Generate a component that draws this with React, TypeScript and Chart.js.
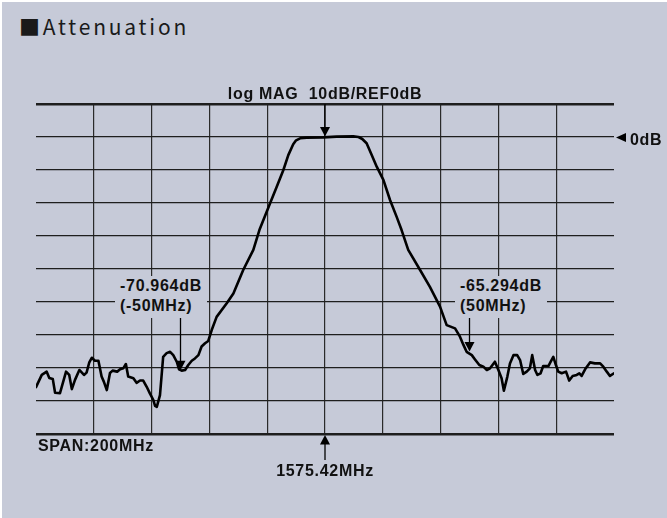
import React, { useEffect, useRef } from 'react';
import { Chart, registerables } from 'chart.js';

Chart.register(...registerables);

// Frequency offset from centre (MHz) and measured level (dB)
const freqMHz = [
  -100, -98.0, -96.3, -95.4, -94.2, -93.4, -91.7, -89.6, -88.5, -87.6, -86.5, -85.0, -83.4, -82.5,
  -81.6, -80.7, -79.6, -78.4, -77.3, -76.5, -75.5, -74.4, -73.5, -71.9, -70.9, -69.8, -68.9, -68.1,
  -66.3, -65.2, -64.0, -62.9, -61.7, -60.6, -59.4, -58.8, -58.2, -57.1, -56.0, -54.8, -53.6, -52.5,
  -51.3, -50.5, -49.6, -48.4, -47.3, -46.1, -45.0, -43.8, -42.7, -41.5, -40.4, -39.2, -37.5, -34.0,
  -31.7, -28.3, -24.8, -22.7, -19.0, -16.7, -14.4, -12.7, -11.0, -10.0, -8.6, -6.3, -0.6, 4.0,
  9.8, 11.6, 12.9, 14.4, 16.2, 17.9, 20.2, 22.5, 24.8, 26.5, 28.8, 32.9, 36.3, 39.8,
  42.1, 45.0, 46.7, 47.9, 49.0, 50.8, 51.9, 53.4, 54.8, 56.0, 57.1, 58.8, 60.0, 61.1,
  61.9, 63.1, 64.0, 65.2, 66.5, 67.5, 68.6, 69.8, 70.9, 71.7, 72.7, 73.5, 74.6, 75.5,
  77.3, 78.1, 79.0, 79.9, 80.7, 81.9, 83.4, 84.5, 85.7, 87.1, 88.0, 88.8, 90.0, 91.7,
  93.4, 95.2, 96.3, 97.5, 98.6, 100,
];

const levelDb = [
  -75.8, -72.1, -71.1, -73.0, -73.3, -77.5, -77.6, -71.1, -72.1, -76.4, -73.6, -70.6, -72.1, -71.4,
  -68.4, -66.9, -67.8, -67.8, -72.6, -74.2, -76.7, -71.5, -70.8, -71.1, -70.4, -70.1, -68.8, -72.6,
  -73.1, -74.5, -73.8, -73.8, -75.7, -77.7, -79.7, -81.5, -81.8, -78.2, -66.6, -65.5, -65.1, -66.1,
  -68.1, -70.4, -70.8, -70.6, -69.1, -67.8, -67.1, -66.1, -63.5, -62.5, -61.8, -58.5, -54.5, -50.4,
  -47.4, -40.3, -34.2, -28.2, -20.1, -15.1, -10.0, -5.5, -2.2, -1.0, -0.4, -0.2, -0.1, 0.1,
  0.2, 0.0, -0.6, -1.9, -5.5, -9.0, -13.0, -19.1, -24.2, -28.2, -34.2, -40.3, -45.4, -51.4,
  -57.0, -58.0, -60.5, -63.0, -65.1, -66.1, -67.4, -69.1, -69.6, -70.6, -70.1, -68.1, -70.6, -73.1,
  -76.9, -72.6, -68.6, -66.1, -66.1, -67.6, -71.8, -71.1, -70.1, -66.1, -70.6, -72.1, -71.6, -69.4,
  -69.4, -68.1, -66.6, -69.1, -71.1, -71.6, -71.1, -73.8, -72.4, -72.1, -71.6, -72.4, -70.4, -68.3,
  -68.6, -68.6, -69.6, -71.1, -72.4, -71.6,
];

// Markers
const markerFreqs = [-50, 50];
const markerDbs = [-70.964, -65.294];
const markerLevelLabels = ['-70.964dB', '-65.294dB'];
const markerOffsetLabels = ['(-50MHz)', '(50MHz)'];

// Axis settings / texts
const spanMHz = 200;
const divisionMHz = 20;
const refDb = 0;
const dbPerDiv = 10;
const topDb = 10;
const bottomDb = -90;
const titleText = 'Attenuation';
const headerText = 'log MAG  10dB/REF0dB';
const refText = '0dB';
const spanText = 'SPAN:200MHz';
const centerText = '1575.42MHz';

const BG = '#C6CAD8';
const LABEL_BOX_BOTTOM = 318;

function downArrow(ctx: CanvasRenderingContext2D, x: number, y1: number, tip: number) {
  ctx.beginPath();
  ctx.moveTo(x, y1);
  ctx.lineTo(x, tip - 8);
  ctx.stroke();
  ctx.beginPath();
  ctx.moveTo(x - 5, tip - 9.5);
  ctx.lineTo(x + 5, tip - 9.5);
  ctx.lineTo(x, tip);
  ctx.closePath();
  ctx.fill();
}

function upArrow(ctx: CanvasRenderingContext2D, x: number, tip: number, y2: number) {
  ctx.beginPath();
  ctx.moveTo(x, tip + 8);
  ctx.lineTo(x, y2);
  ctx.stroke();
  ctx.beginPath();
  ctx.moveTo(x - 5, tip + 9.5);
  ctx.lineTo(x + 5, tip + 9.5);
  ctx.lineTo(x, tip);
  ctx.closePath();
  ctx.fill();
}

const arrowPlugin = {
  id: 'analyzerArrows',
  afterDatasetsDraw(chart: any) {
    const { ctx, chartArea, scales } = chart;
    const xs = scales.x;
    const ys = scales.y;
    ctx.save();
    ctx.strokeStyle = '#000';
    ctx.fillStyle = '#000';
    ctx.lineWidth = 1.3;
    const cx = xs.getPixelForValue(0);
    const y0 = ys.getPixelForValue(refDb);
    // centre marker at top
    downArrow(ctx, cx, chartArea.top, y0 - 0.5);
    // centre frequency arrow below
    upArrow(ctx, cx, chartArea.bottom + 1, chartArea.bottom + 26);
    // reference level triangle
    const rx = chartArea.right + 2;
    ctx.beginPath();
    ctx.moveTo(rx, y0 + 0.5);
    ctx.lineTo(rx + 10, y0 - 4);
    ctx.lineTo(rx + 10, y0 + 5);
    ctx.closePath();
    ctx.fill();
    // band markers
    markerFreqs.forEach((f, i) => {
      const px = xs.getPixelForValue(f);
      const py = ys.getPixelForValue(markerDbs[i]);
      downArrow(ctx, px, LABEL_BOX_BOTTOM, py - 1);
    });
    ctx.restore();
  },
};

const boldText: React.CSSProperties = {
  position: 'absolute',
  fontFamily: '"Liberation Sans", Arial, sans-serif',
  fontWeight: 700,
  fontSize: 16,
  lineHeight: '20px',
  letterSpacing: '0.7px',
  color: '#111',
  whiteSpace: 'pre',
};

export default function App() {
  const canvasRef = useRef<HTMLCanvasElement | null>(null);

  useEffect(() => {
    if (!canvasRef.current) return;
    const chart = new Chart(canvasRef.current, {
      type: 'line',
      data: {
        datasets: [
          {
            data: freqMHz.map((f, i) => ({ x: f, y: levelDb[i] })),
            borderColor: '#000',
            borderWidth: 2.6,
            pointRadius: 0,
            tension: 0,
            fill: false,
            borderJoinStyle: 'round',
            borderCapStyle: 'round',
          },
        ],
      },
      options: {
        responsive: false,
        animation: false,
        devicePixelRatio: 1,
        layout: { padding: { left: 36, right: 53, top: 104, bottom: 84 } },
        plugins: {
          legend: { display: false },
          tooltip: { enabled: false },
          title: { display: false },
        },
        scales: {
          x: {
            type: 'linear',
            min: -spanMHz / 2,
            max: spanMHz / 2,
            ticks: { display: false, stepSize: divisionMHz },
            border: { display: false },
            grid: {
              drawTicks: false,
              lineWidth: 1.2,
              color: (c: any) =>
                c.tick && Math.abs(c.tick.value) === spanMHz / 2 ? 'rgba(0,0,0,0)' : '#2a2a2a',
            },
          },
          y: {
            type: 'linear',
            min: bottomDb,
            max: topDb,
            ticks: { display: false, stepSize: dbPerDiv },
            border: { display: false },
            grid: {
              drawTicks: false,
              color: '#1e1e1e',
              lineWidth: (c: any) =>
                c.tick && (c.tick.value === topDb || c.tick.value === bottomDb) ? 2.4 : 1.2,
            },
          },
        },
      },
      plugins: [arrowPlugin],
    } as any);
    return () => chart.destroy();
  }, []);

  return (
    <div style={{ position: 'fixed', left: 0, top: 0, width: 667, height: 518, background: '#fff', overflow: 'hidden' }}>
      <div style={{ position: 'absolute', left: 2, top: 2, width: 665, height: 516, background: BG }} />
      <div
        style={{
          position: 'absolute',
          left: 19,
          top: 11,
          fontFamily: '"Noto Sans CJK JP", sans-serif',
          fontSize: 21,
          lineHeight: '30px',
          letterSpacing: '2.8px',
          color: '#1a1a1a',
          whiteSpace: 'pre',
        }}
      >
        ■{titleText}
      </div>
      <canvas ref={canvasRef} width={667} height={518} style={{ position: 'absolute', left: 0, top: 0, width: 667, height: 518 }} />
      <div style={{ ...boldText, left: 325, top: 84, transform: 'translateX(-50%)' }}>{headerText}</div>
      <div style={{ ...boldText, left: 630, top: 130 }}>{refText}</div>
      <div style={{ ...boldText, left: 38, top: 436 }}>{spanText}</div>
      <div style={{ ...boldText, left: 325, top: 461, transform: 'translateX(-50%)' }}>{centerText}</div>
      <div style={{ ...boldText, left: 115, top: 276, height: 42, padding: '0 5px', background: BG }}>
        {markerLevelLabels[0] + '\n' + markerOffsetLabels[0]}
      </div>
      <div style={{ ...boldText, left: 455, top: 276, height: 42, padding: '0 5px', background: BG }}>
        {markerLevelLabels[1] + '\n' + markerOffsetLabels[1]}
      </div>
    </div>
  );
}
